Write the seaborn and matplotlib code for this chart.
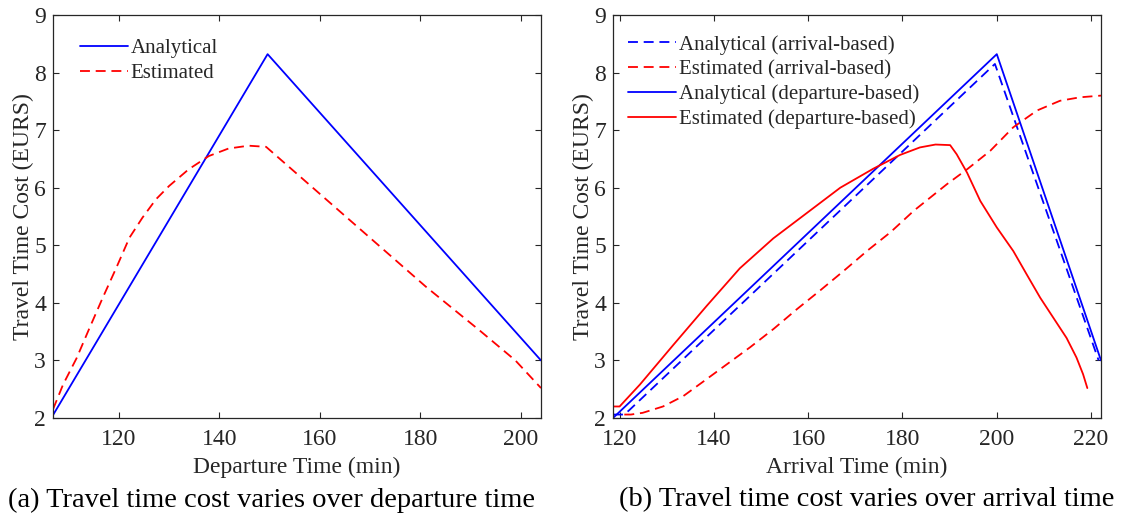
import numpy as np
import pandas as pd
import matplotlib
matplotlib.use("Agg")
import matplotlib.pyplot as plt
import seaborn as sns

# ---------------- data ----------------
# (a) over departure time
dep_analytical_x = [106.9, 149.6, 204.0]
dep_analytical_y = [2.05, 8.32, 3.00]
dep_estimated_x = [106.9, 108.9, 111.6, 114.2, 116.8, 119.5, 122.1, 124.7, 127.4, 130.0,
                   133.9, 137.9, 141.8, 145.8, 149.3, 159.9, 170.5, 181.1, 191.8, 198.9, 204.0]
dep_estimated_y = [2.15, 2.58, 3.04, 3.57, 4.09, 4.61, 5.13, 5.48, 5.80, 6.03,
                   6.32, 6.55, 6.68, 6.73, 6.71, 5.90, 5.09, 4.28, 3.52, 3.00, 2.52]

# (b) over arrival time
arr_an_arr_x = [118.6, 121.0, 122.1, 199.6, 221.6]
arr_an_arr_y = [2.06, 2.06, 2.14, 8.15, 3.00]
arr_est_arr_x = [121.0, 122.4, 124.9, 129.2, 133.5, 137.7, 142.7, 147.7, 152.7, 157.6, 162.6,
                 167.6, 172.6, 177.5, 182.4, 189.4, 193.7, 198.6, 203.5, 208.5, 213.4, 217.6, 222.1]
arr_est_arr_y = [2.06, 2.06, 2.09, 2.20, 2.38, 2.63, 2.93, 3.23, 3.55, 3.89, 4.22,
                 4.56, 4.91, 5.23, 5.60, 6.06, 6.32, 6.64, 7.05, 7.34, 7.51, 7.57, 7.60]
arr_an_dep_x = [118.6, 200.0, 222.1]
arr_an_dep_y = [2.00, 8.32, 3.00]
arr_est_dep_x = [118.6, 120.0, 124.3, 131.4, 138.5, 145.5, 152.6, 159.7, 166.8, 173.8,
                 179.5, 183.7, 187.0, 190.1, 191.5, 193.7, 196.5, 200.0, 203.5, 206.3,
                 209.2, 212.0, 214.8, 216.9, 218.3, 219.2]
arr_est_dep_y = [2.20, 2.20, 2.58, 3.27, 3.95, 4.60, 5.12, 5.56, 6.00, 6.33,
                 6.57, 6.70, 6.75, 6.74, 6.58, 6.26, 5.77, 5.31, 4.90, 4.50,
                 4.09, 3.74, 3.39, 3.05, 2.76, 2.52]

left_xticks = [120, 140, 160, 180, 200]
right_xticks = [120, 140, 160, 180, 200, 220]
yticks = [2, 3, 4, 5, 6, 7, 8, 9]

# ---------------- style ----------------
sns.set_theme(style="ticks")
plt.rcParams['font.family'] = ['Liberation Serif', 'DejaVu Serif']

BLUE = (0, 0, 1)
RED = (1, 0, 0)
DASH = (0, (5.5, 3.2))
LW = 1.3

fig = plt.figure(figsize=(11.28, 5.23), dpi=100)
axL = fig.add_axes([53/1128, 105/523, 488/1128, 403/523])
axR = fig.add_axes([613/1128, 105/523, 488/1128, 403/523])


def draw(ax, x, y, color, ls, label):
    df = pd.DataFrame({"x": x, "y": y})
    sns.lineplot(data=df, x="x", y="y", ax=ax, color=color, linestyle=ls,
                 linewidth=LW, sort=False, estimator=None, label=label, legend=False)


draw(axL, dep_analytical_x, dep_analytical_y, BLUE, '-', 'Analytical')
draw(axL, dep_estimated_x, dep_estimated_y, RED, DASH, 'Estimated')

draw(axR, arr_an_arr_x, arr_an_arr_y, BLUE, DASH, 'Analytical (arrival-based)')
draw(axR, arr_est_arr_x, arr_est_arr_y, RED, DASH, 'Estimated (arrival-based)')
draw(axR, arr_an_dep_x, arr_an_dep_y, BLUE, '-', 'Analytical (departure-based)')
draw(axR, arr_est_dep_x, arr_est_dep_y, RED, '-', 'Estimated (departure-based)')

FS = 17
for ax, xl, xt, xlab in [(axL, (106.9, 204.0), left_xticks, 'Departure Time (min)'),
                         (axR, (118.6, 222.1), right_xticks, 'Arrival Time (min)')]:
    ax.set_xlim(*xl)
    ax.set_ylim(2, 9)
    ax.set_xticks(xt)
    ax.set_yticks(yticks)
    ax.tick_params(direction='in', length=4, width=0.8, top=True, right=True,
                   labelsize=FS, colors='#262626')
    ax.tick_params(axis='x', pad=8)
    ax.tick_params(axis='y', pad=5)
    for s in ax.spines.values():
        s.set_color('#262626')
        s.set_linewidth(0.9)
    ax.set_xlabel(xlab, fontsize=FS, color='#262626', labelpad=5)
    ax.set_ylabel('Travel Time Cost (EURS)', fontsize=FS, color='#262626', labelpad=0)
    ax.legend(loc='upper left', frameon=False, fontsize=15, handlelength=2.3,
              handletextpad=0.15, labelspacing=0.25, borderaxespad=0.3,
              bbox_to_anchor=(0.025, 0.978) if ax is axL else (0.0, 0.987))

fig.text(272/1128, 1 - 500/523, '(a) Travel time cost varies over departure time',
         ha='center', va='center', fontsize=20.5, color='black')
fig.text(867/1128, 1 - 500/523, '(b) Travel time cost varies over arrival time',
         ha='center', va='center', fontsize=20.5, color='black')

fig.savefig('out.png', dpi=100, facecolor='white')
